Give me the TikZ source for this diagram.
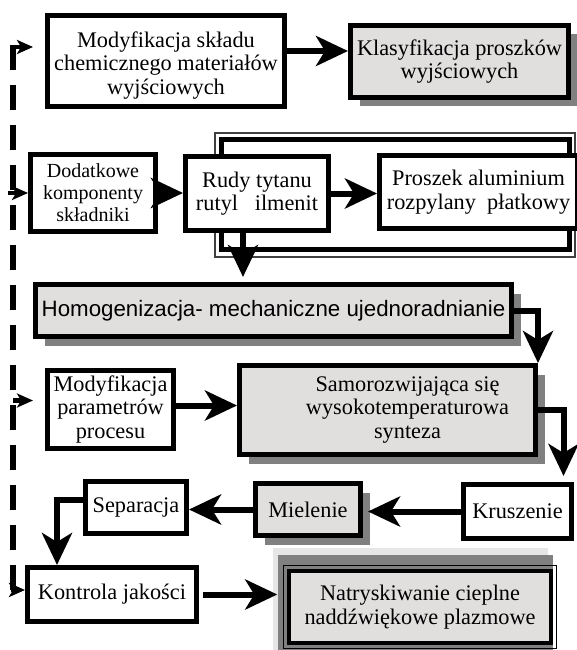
\documentclass[tikz,border=0pt]{standalone}
\usepackage{fontspec}
\setmainfont{Liberation Serif}
\newfontfamily\arialfont{Liberation Sans}
\usepackage{xcolor}
\usepackage{tikz}
\usetikzlibrary{arrows.meta,shadows}
\definecolor{boxgray}{RGB}{225,222,222}
\definecolor{shadegray}{RGB}{128,128,128}
\definecolor{lightshade}{RGB}{230,230,230}
\newcommand{\bigtxt}{\fontsize{22.3}{23.5}\selectfont}
\newcommand{\smalltxt}{\fontsize{20}{22}\selectfont}
\newcommand{\homtxt}{\arialfont\fontsize{22.3}{24}\selectfont}

\begin{document}
\begin{tikzpicture}[
  x=1pt,y=-1pt,
  box/.style={draw, line width=5pt, fill=white, inner sep=1pt, align=center, anchor=north west, font=\bigtxt},
  gbox/.style={box, fill=boxgray, drop shadow={shadow xshift=9pt, shadow yshift=-9pt, fill=shadegray, opacity=1}},
  arr/.style={line width=6pt, -{Stealth[length=32pt, width=30pt, inset=9pt]}},
  fbline/.style={line width=5.5pt, dash pattern=on 25pt off 15pt},
  fbarr/.style={line width=4.5pt, -{Stealth[length=16pt, width=14pt, inset=4pt]}}]
\fill[white] (0,0) rectangle (577,650);
\useasboundingbox (0,0) rectangle (577,650);
\fill[lightshade] (273,548) rectangle (548,650);
\fill[shadegray] (278,555) rectangle (553,650);
\draw[line width=1.2pt, black!75] (215,133) rectangle (575,257);
\draw[line width=5pt] (221.5,139) rectangle (569.5,249);
\node[box, minimum width=237pt, minimum height=91pt] (modsklad) at (45,13) {\rule{0pt}{24pt}Modyfikacja składu\\chemicznego materiałów\\wyjściowych};
\node[gbox, minimum width=218pt, minimum height=72pt] (klas) at (348,23) {Klasyfikacja proszków\\wyjściowych};
\node[box, font=\smalltxt, minimum width=125pt, minimum height=77pt] (dodat) at (28,152) {Dodatkowe\\komponenty\\składniki};
\node[box, minimum width=143pt, minimum height=74pt] (rudy) at (183,154) {Rudy tytanu\\rutyl~~~ilmenit};
\node[box, minimum width=198pt, minimum height=73pt] (prosz) at (377,153) {Proszek aluminium\\rozpylany~~płatkowy};
\node[gbox, font=\homtxt, minimum width=476pt, minimum height=52pt] (homog) at (33,282) {Homogenizacja- mechaniczne ujednoradnianie};
\node[box, minimum width=126pt, minimum height=78pt] (modpar) at (45,368) {Modyfikacja\\parametrów\\procesu};
\node[gbox, minimum width=296pt, minimum height=89pt] (samoro) at (237,363) {};
\node[font=\bigtxt, align=center] (samorotxt) at ([xshift=20pt]samoro.center) {Samorozwijająca się\\wysokotemperaturowa\\synteza};
\node[box, minimum width=101pt, minimum height=52pt] (separ) at (83,479) {Separacja};
\node[gbox, minimum width=105pt, minimum height=52pt] (miel) at (253,481) {Mielenie};
\node[box, minimum width=108pt, minimum height=54pt] (krusz) at (461,482) {Kruszenie};
\node[box, minimum width=169pt, minimum height=54pt] (kontr) at (25,565) {Kontrola jakości};
\node[box, fill=boxgray, line width=3.5pt, minimum width=262pt, minimum height=72pt] (natr) at (287.25,569.25) {Natryskiwanie cieplne\\naddźwiękowe plazmowe};
\draw[line width=1.2pt] ([xshift=-4pt,yshift=4pt]natr.north west) rectangle ([xshift=4pt,yshift=-4pt]natr.south east);
\draw[arr] ([yshift=10pt]modsklad.east) -- ([yshift=10pt]modsklad.east -| klas.west);
\draw[arr] (dodat.east) -- (dodat.east -| rudy.west);
\draw[arr] (rudy.east) -- (rudy.east -| prosz.west);
\draw[arr, shorten >=5pt] ([xshift=-14pt]rudy.south) -- ([xshift=-14pt]rudy.south |- homog.north);
\draw[arr] (homog.east) -| (samoro.north east);
\draw[arr] ([yshift=4pt]modpar.east) -- ([yshift=4pt]modpar.east -| samoro.west);
\draw[arr, shorten >=6pt] (samoro.east) -| ([xshift=46pt]krusz.north);
\draw[arr, shorten >=5pt] (krusz.west) -- (krusz.west -| miel.east);
\draw[arr] (miel.west) -- (miel.west -| separ.east);
\draw[arr] ([yshift=8pt]separ.west) -| ([xshift=-55pt]kontr.north);
\draw[arr, shorten <=4pt, shorten >=10pt] (kontr.east) -- (kontr.east -| natr.west);
\coordinate (fbtop) at (13,47);
\coordinate (fbbot) at (13,590);
\coordinate (fbpar) at ([yshift=9pt]modpar.west);
\draw[fbline] (fbbot) -- ([yshift=2.5pt]fbtop);
\draw[fbarr, shorten >=12pt] ([xshift=-2.5pt]fbtop) -- (fbtop -| modsklad.west);
\draw[fbarr] ([xshift=-5pt]fbtop |- dodat.west) -- (dodat.west);
\draw[fbarr, shorten >=12pt] (fbtop |- fbpar) -- (fbpar);
\draw[fbarr] ([xshift=-2.5pt]fbbot) -- (fbbot -| kontr.west);
\end{tikzpicture}
\end{document}
